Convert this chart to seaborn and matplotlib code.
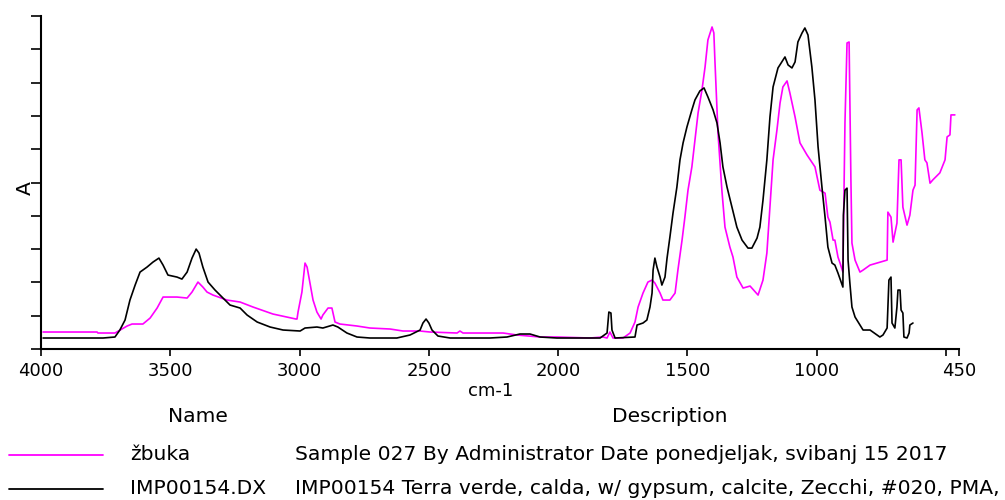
import numpy as np
import pandas as pd
import matplotlib
matplotlib.use('Agg')
import matplotlib.pyplot as plt
from matplotlib.lines import Line2D
import seaborn as sns

# --- DATA ---
zbuka_wn = [3992, 3783, 3780, 3714, 3667, 3648, 3606, 3578, 3551, 3528, 3474, 3435, 3416, 3393,
            3374, 3358, 3335, 3281, 3230, 3180, 3103, 3049, 3014, 3010, 3006, 2991, 2979, 2971,
            2960, 2948, 2933, 2917, 2910, 2890, 2875, 2863, 2844, 2778, 2728, 2650, 2600, 2534,
            2496, 2391, 2380, 2368, 2213, 2159, 2070, 2005, 1877, 1827, 1811, 1800, 1788, 1749,
            1722, 1703, 1691, 1672, 1653, 1637, 1626, 1606, 1595, 1568, 1548, 1537, 1521, 1510,
            1498, 1483, 1471, 1459, 1444, 1432, 1421, 1405, 1398, 1394, 1382, 1367, 1355, 1336,
            1324, 1309, 1285, 1258, 1227, 1208, 1193, 1181, 1169, 1154, 1142, 1131, 1115, 1104,
            1084, 1065, 1038, 1007, 988, 968, 957, 949, 937, 930, 918, 910, 899, 891, 883, 875,
            868, 864, 852, 833, 821, 794, 767, 728, 725, 713, 705, 690, 682, 674, 667, 651, 640,
            628, 620, 612, 605, 593, 582, 574, 562, 551, 524, 504, 496, 485, 481, 466]
zbuka_abs = [0.051, 0.051, 0.048, 0.048, 0.069, 0.075, 0.075, 0.093, 0.123, 0.156, 0.156, 0.153,
             0.171, 0.201, 0.186, 0.171, 0.162, 0.147, 0.141, 0.126, 0.105, 0.096, 0.090, 0.090,
             0.111, 0.171, 0.258, 0.246, 0.198, 0.147, 0.111, 0.090, 0.102, 0.123, 0.123, 0.081,
             0.075, 0.069, 0.063, 0.060, 0.054, 0.054, 0.051, 0.048, 0.054, 0.048, 0.048, 0.042,
             0.036, 0.036, 0.033, 0.036, 0.033, 0.051, 0.033, 0.033, 0.048, 0.081, 0.126, 0.168,
             0.201, 0.207, 0.198, 0.168, 0.147, 0.147, 0.168, 0.237, 0.327, 0.396, 0.477, 0.547,
             0.628, 0.709, 0.778, 0.847, 0.928, 0.967, 0.949, 0.868, 0.649, 0.477, 0.366, 0.306,
             0.276, 0.216, 0.183, 0.189, 0.162, 0.207, 0.288, 0.426, 0.568, 0.658, 0.739, 0.787,
             0.805, 0.769, 0.697, 0.619, 0.583, 0.547, 0.477, 0.468, 0.396, 0.381, 0.327, 0.327,
             0.276, 0.258, 0.231, 0.679, 0.919, 0.922, 0.508, 0.318, 0.267, 0.231, 0.237, 0.252,
             0.258, 0.267, 0.411, 0.396, 0.321, 0.378, 0.568, 0.568, 0.426, 0.372, 0.402, 0.477,
             0.492, 0.718, 0.724, 0.649, 0.568, 0.559, 0.498, 0.508, 0.529, 0.568, 0.637, 0.643,
             0.703, 0.703]

imp_wn = [3992, 3760, 3714, 3695, 3675, 3656, 3636, 3617, 3590, 3567, 3544, 3528, 3509, 3474,
          3455, 3435, 3416, 3400, 3389, 3374, 3354, 3327, 3300, 3269, 3230, 3203, 3164, 3114,
          3064, 2998, 2979, 2933, 2910, 2871, 2852, 2817, 2778, 2728, 2624, 2573, 2534, 2523,
          2511, 2500, 2488, 2465, 2418, 2264, 2198, 2148, 2109, 2070, 2005, 1838, 1811, 1804,
          1796, 1792, 1780, 1703, 1695, 1672, 1657, 1645, 1637, 1633, 1626, 1618, 1606, 1599,
          1587, 1579, 1568, 1556, 1541, 1529, 1517, 1502, 1483, 1471, 1452, 1436, 1421, 1401,
          1386, 1374, 1363, 1347, 1328, 1309, 1289, 1266, 1251, 1231, 1220, 1208, 1193, 1181,
          1169, 1150, 1135, 1123, 1111, 1096, 1084, 1073, 1057, 1046, 1034, 1019, 1007, 995,
          980, 968, 957, 941, 930, 918, 899, 897, 891, 883, 879, 872, 864, 852, 833, 821, 794,
          767, 756, 744, 728, 721, 713, 709, 698, 690, 686, 678, 674, 667, 663, 651, 643, 640,
          628]
imp_abs = [0.033, 0.033, 0.036, 0.057, 0.087, 0.147, 0.192, 0.231, 0.246, 0.261, 0.273, 0.252,
           0.222, 0.216, 0.210, 0.231, 0.273, 0.300, 0.288, 0.246, 0.201, 0.177, 0.156, 0.132,
           0.123, 0.102, 0.081, 0.066, 0.057, 0.054, 0.063, 0.066, 0.063, 0.072, 0.066, 0.048,
           0.036, 0.033, 0.033, 0.042, 0.057, 0.078, 0.090, 0.078, 0.057, 0.039, 0.033, 0.033,
           0.036, 0.045, 0.045, 0.036, 0.033, 0.033, 0.048, 0.111, 0.108, 0.057, 0.033, 0.036,
           0.072, 0.078, 0.087, 0.126, 0.168, 0.237, 0.273, 0.246, 0.216, 0.192, 0.216, 0.273,
           0.336, 0.408, 0.486, 0.568, 0.619, 0.667, 0.718, 0.748, 0.775, 0.784, 0.757, 0.718,
           0.679, 0.619, 0.547, 0.486, 0.426, 0.366, 0.327, 0.303, 0.303, 0.333, 0.366, 0.447,
           0.568, 0.697, 0.787, 0.844, 0.862, 0.877, 0.853, 0.844, 0.862, 0.922, 0.949, 0.964,
           0.943, 0.847, 0.748, 0.607, 0.486, 0.396, 0.306, 0.258, 0.252, 0.228, 0.186, 0.402,
           0.477, 0.483, 0.267, 0.198, 0.126, 0.096, 0.072, 0.057, 0.057, 0.042, 0.036, 0.042,
           0.063, 0.207, 0.216, 0.078, 0.063, 0.126, 0.177, 0.177, 0.117, 0.108, 0.036, 0.033,
           0.048, 0.072, 0.078]

x_ticks = [4000, 3500, 3000, 2500, 2000, 1500, 1000, 450]
x_ticklabels = ['4000', '3500', '3000', '2500', '2000', '1500', '1000', '450']
names = ['žbuka', 'IMP00154.DX']
descriptions = ['Sample 027 By Administrator Date ponedjeljak, svibanj 15 2017',
                'IMP00154 Terra verde, calda, w/ gypsum, calcite, Zecchi, #020, PMA,']
colors = ['#ff00ff', '#000000']

# --- PLOTTING ---
sns.set_theme(style='ticks')
plt.rcParams['font.family'] = ['DejaVu Sans']
plt.rcParams['text.color'] = 'black'
FS = 13      # tick labels
FS2 = 14.6   # table / axis titles

W, H = 1005, 500
fig = plt.figure(figsize=(W / 100, H / 100), dpi=100)
ax = fig.add_axes([41 / W, 1 - 349 / H, 918 / W, 333 / H])

sns.lineplot(x=zbuka_wn, y=zbuka_abs, sort=False, estimator=None, color=colors[0], lw=1.2, ax=ax)
sns.lineplot(x=imp_wn, y=imp_abs, sort=False, estimator=None, color=colors[1], lw=1.2, ax=ax)

ax.set_xlim(4000, 450)
ax.set_ylim(0, 1.0)
ax.set_xticks(x_ticks)
ax.set_xticklabels(x_ticklabels, fontsize=FS, color='black')
ax.set_xticks([500], minor=True)
ax.set_yticks(np.arange(0, 1.01, 0.1))
ax.set_yticklabels([])
ax.tick_params(axis='x', which='both', direction='out', length=5, width=1.2, color='black', pad=4)
ax.tick_params(axis='y', direction='out', length=7, width=1.2, color='black')
for s in ['top', 'right']:
    ax.spines[s].set_visible(False)
for s in ['left', 'bottom']:
    ax.spines[s].set_color('black')
    ax.spines[s].set_linewidth(1.5)
ax.set_xlabel('')
ax.set_ylabel('')

# axis titles
fig.text(25 / W, 1 - 188 / H, 'A', rotation=90, fontsize=FS2, ha='center', va='center')
fig.text(491 / W, 1 - 391 / H, 'cm-1', fontsize=13, ha='center', va='center')

# legend table under the chart
fig.text(198 / W, 1 - 417 / H, 'Name', fontsize=FS2, ha='center', va='center')
fig.text(670 / W, 1 - 417 / H, 'Description', fontsize=FS2, ha='center', va='center')
rows_y = [454, 488]
for i in range(2):
    yy = 1 - rows_y[i] / H
    fig.add_artist(Line2D([9 / W, 103 / W], [1 - (rows_y[i] + 1) / H] * 2, color=colors[i], lw=1.3))
    fig.text(130 / W, yy, names[i], fontsize=FS2, ha='left', va='center')
    fig.text(295 / W, yy, descriptions[i], fontsize=FS2, ha='left', va='center')

plt.savefig('out.png', dpi=100)
